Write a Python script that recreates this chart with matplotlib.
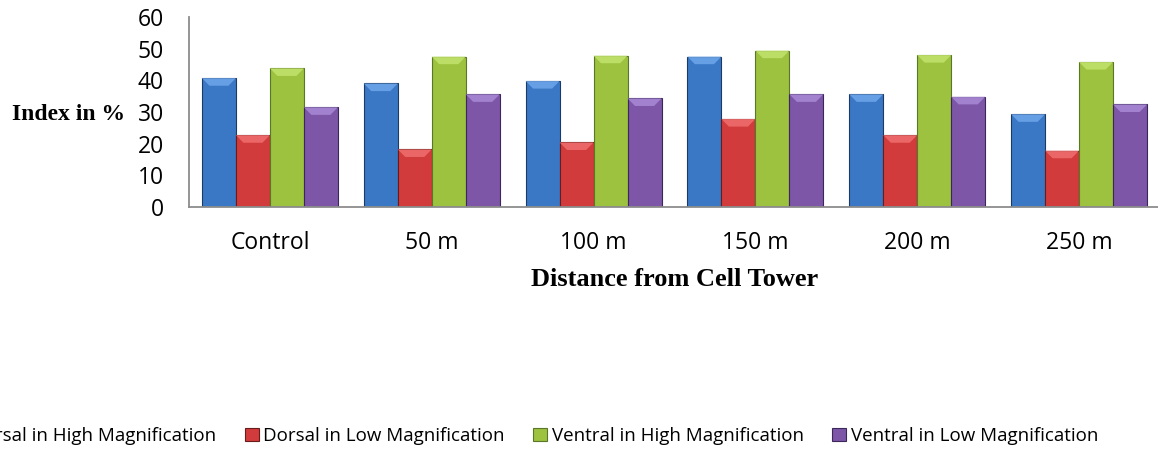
import matplotlib
matplotlib.use("Agg")
import matplotlib.pyplot as plt
from matplotlib.patches import Polygon
import numpy as np

categories = ["Control", "50 m", "100 m", "150 m", "200 m", "250 m"]
series_names = ["Dorsal in High Magnification", "Dorsal in Low Magnification",
                "Ventral in High Magnification", "Ventral in Low Magnification"]
dorsal_high = [40.7, 39.0, 39.8, 47.5, 35.6, 29.3]
dorsal_low = [22.7, 18.2, 20.4, 27.8, 22.7, 17.8]
ventral_high = [43.8, 47.5, 47.8, 49.4, 48.0, 45.8]
ventral_low = [31.5, 35.6, 34.3, 35.6, 34.8, 32.4]
yticks = [0, 10, 20, 30, 40, 50, 60]

colors = ["#3A78C6", "#D13B3B", "#9CC23F", "#7D56A8"]
tops = ["#6FA6EA", "#F07070", "#C4E46E", "#A98AD6"]
edges = ["#1C3A63", "#6A1C1C", "#5A7628", "#3B2858"]

fig = plt.figure(figsize=(11.58, 4.5), dpi=100)
ax = fig.add_axes([189/1158, 1-207/450, (1160-189)/1158, (207-17)/450])

x = np.arange(len(categories))
w = 0.21
data = [dorsal_high, dorsal_low, ventral_high, ventral_low]
handles = []
for i, (vals, c, t, e, name) in enumerate(zip(data, colors, tops, edges, series_names)):
    b = ax.bar(x + (i - 1.5) * w, vals, width=w, color=c, edgecolor=e, linewidth=0.8, label=name)
    handles.append(b)
    # bevel highlight on top of each bar
    for rect in b.patches:
        x0, y1 = rect.get_x(), rect.get_height()
        bw = rect.get_width()
        inset = bw * 0.22
        dh = 2.4
        poly = Polygon([[x0, y1], [x0 + bw, y1], [x0 + bw - inset, y1 - dh], [x0 + inset, y1 - dh]],
                       closed=True, facecolor=t, edgecolor="none", alpha=0.85)
        ax.add_patch(poly)

ax.set_xlim(-0.5, len(categories) - 0.5)
ax.set_ylim(0, 60)
ax.set_yticks(yticks)
ax.set_yticklabels([str(t) for t in yticks], fontsize=16.5, family="Open Sans")
ax.set_xticks(x)
ax.set_xticklabels(categories, fontsize=16.5, family="Open Sans")
ax.tick_params(axis="both", length=0)
ax.tick_params(axis="y", pad=18)
ax.tick_params(axis="x", pad=17)
for s in ["top", "right"]:
    ax.spines[s].set_visible(False)
for s in ["left", "bottom"]:
    ax.spines[s].set_color("#8C8C8C")
    ax.spines[s].set_linewidth(1.3)

ax.set_xlabel("Distance from Cell Tower", fontsize=19, fontweight="bold",
              family="Liberation Serif", labelpad=10)
fig.text(12/1158, 1-114/450, "Index in %", fontsize=17, fontweight="bold",
         family="Liberation Serif", ha="left", va="center")

leg = fig.legend(handles=handles, loc="center right", bbox_to_anchor=(1098/1158, 1-436/450),
                 ncol=4, frameon=False, prop={"family": "Open Sans", "size": 13.5},
                 handlelength=0.75, handleheight=0.75, handletextpad=0.25,
                 columnspacing=1.5, borderpad=0, borderaxespad=0)

fig.savefig("out.png", dpi=100)
